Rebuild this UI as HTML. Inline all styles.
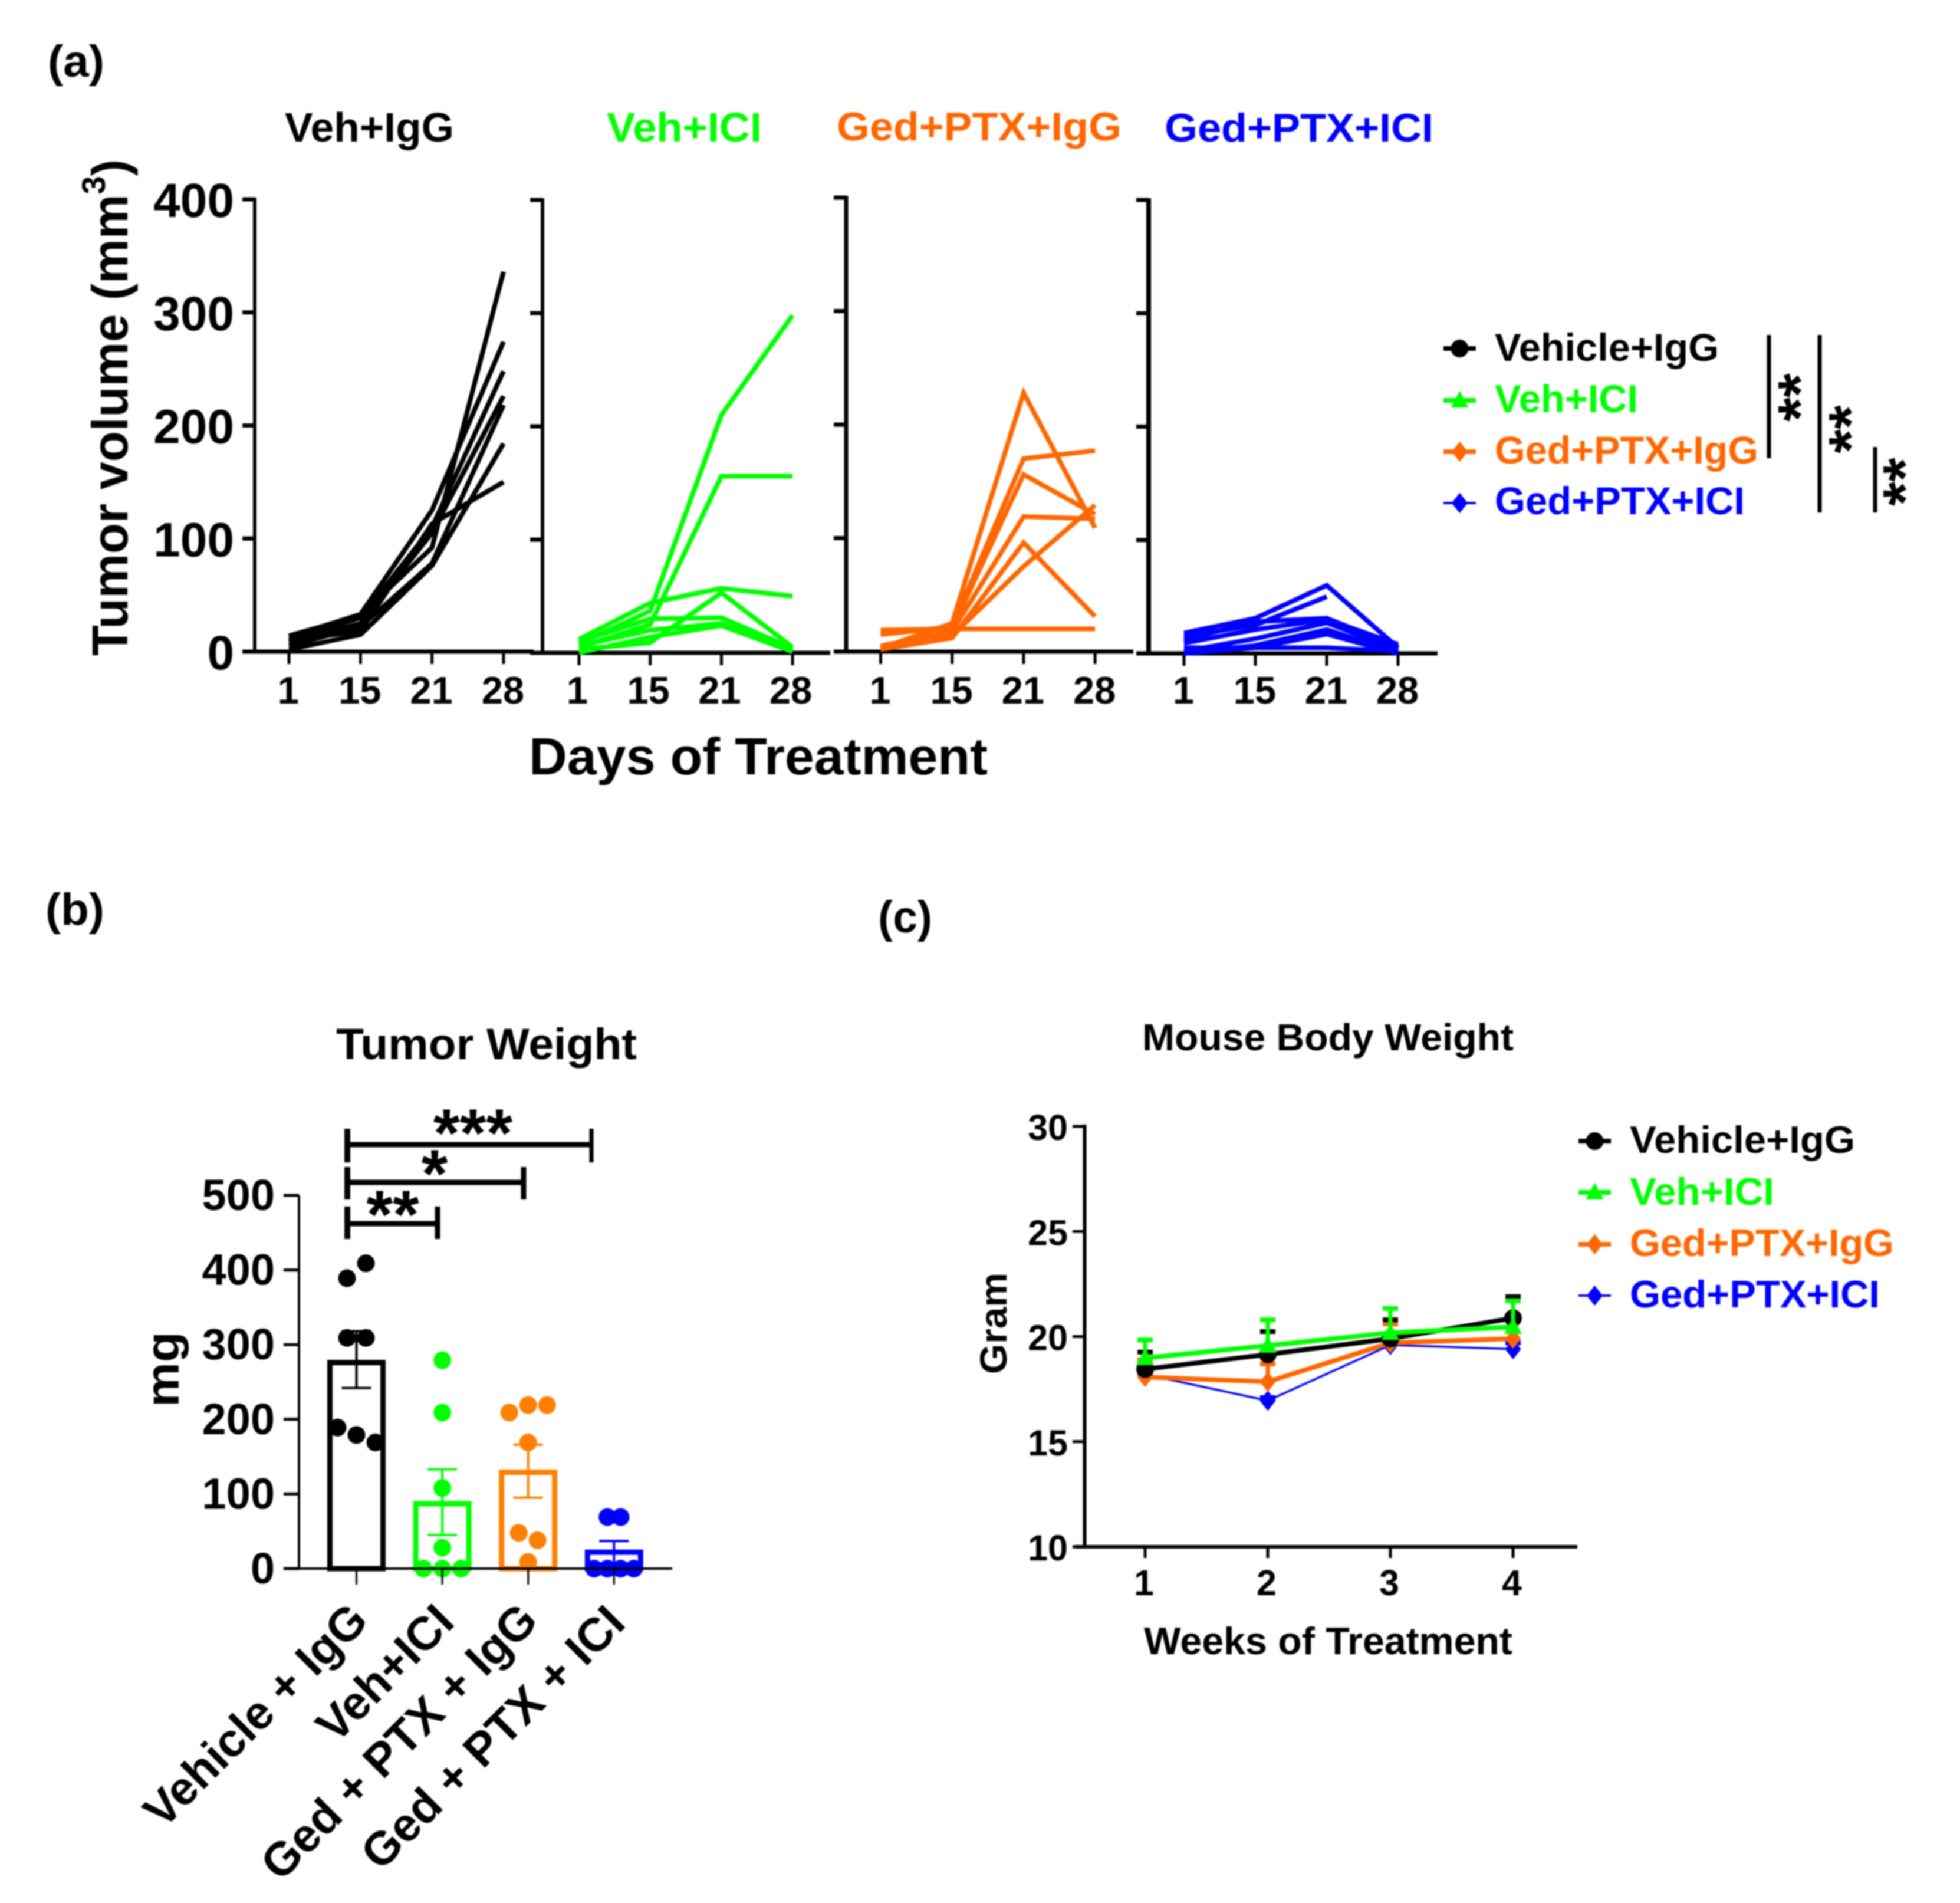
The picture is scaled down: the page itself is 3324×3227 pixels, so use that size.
<!DOCTYPE html>
<html lang="en">
<head>
<meta charset="utf-8">
<title>Tumor volume, tumor weight and body weight</title>
<style>
html,body{margin:0;padding:0;background:#fff;}
svg{display:block;filter:blur(1.2px);}
text{font-family:"Liberation Sans",Arial,sans-serif;font-weight:bold;}
</style>
</head>
<body>
<svg id="fig" xmlns="http://www.w3.org/2000/svg" width="3324" height="3227" viewBox="0 0 3324 3227">
<rect x="0" y="0" width="3324" height="3227" fill="#fff"/>

<text x="81" y="130" font-size="76" textLength="96" lengthAdjust="spacingAndGlyphs">(a)</text>
<text x="483" y="240" font-size="70" textLength="287" lengthAdjust="spacingAndGlyphs" fill="#000">Veh+IgG</text>
<text x="1029" y="240" font-size="70" textLength="263" lengthAdjust="spacingAndGlyphs" fill="#00ff00">Veh+ICI</text>
<text x="1419" y="238" font-size="68" textLength="483" lengthAdjust="spacingAndGlyphs" fill="#ff6600">Ged+PTX+IgG</text>
<text x="1975" y="240" font-size="68" textLength="456" lengthAdjust="spacingAndGlyphs" fill="#0000ff">Ged+PTX+ICI</text>
<text transform="translate(216,1112) rotate(-90)" font-size="85">Tumor volume (mm<tspan font-size="56" dy="-38">3</tspan><tspan dy="38">)</tspan></text>
<text x="897" y="1313" font-size="88" textLength="778" lengthAdjust="spacingAndGlyphs">Days of Treatment</text>

<text x="2535" y="612" font-size="66" textLength="380" lengthAdjust="spacingAndGlyphs" fill="#000">Vehicle+IgG</text>
<text x="2535" y="699" font-size="66" textLength="243" lengthAdjust="spacingAndGlyphs" fill="#00ff00">Veh+ICI</text>
<text x="2535" y="786" font-size="66" textLength="447" lengthAdjust="spacingAndGlyphs" fill="#ff6600">Ged+PTX+IgG</text>
<text x="2535" y="872" font-size="66" textLength="424" lengthAdjust="spacingAndGlyphs" fill="#0000ff">Ged+PTX+ICI</text>

<line x1="3000" y1="568" x2="3000" y2="777" stroke="#000" stroke-width="7"/>
<line x1="3086" y1="568" x2="3086" y2="869" stroke="#000" stroke-width="7"/>
<line x1="3180" y1="758" x2="3180" y2="869" stroke="#000" stroke-width="7"/>
<text transform="translate(3088,674) rotate(-90)" text-anchor="middle" font-size="105">**</text>
<text transform="translate(3174,728) rotate(-90)" text-anchor="middle" font-size="105">**</text>
<text transform="translate(3266,817) rotate(-90)" text-anchor="middle" font-size="105">**</text>

<text x="77" y="1568" font-size="76" textLength="100" lengthAdjust="spacingAndGlyphs">(b)</text>
<text x="570" y="1796" font-size="74" textLength="510" lengthAdjust="spacingAndGlyphs">Tumor Weight</text>
<text transform="translate(303,2386) rotate(-90)" font-size="80" textLength="128" lengthAdjust="spacingAndGlyphs">mg</text>

<line x1="589" y1="1941" x2="1003" y2="1941" stroke="#000" stroke-width="9"/>
<line x1="589" y1="1914" x2="589" y2="1971" stroke="#000" stroke-width="10"/>
<line x1="1003" y1="1914" x2="1003" y2="1971" stroke="#000" stroke-width="7"/>
<line x1="589" y1="2005" x2="888" y2="2005" stroke="#000" stroke-width="9"/>
<line x1="589" y1="1979" x2="589" y2="2034" stroke="#000" stroke-width="10"/>
<line x1="888" y1="1979" x2="888" y2="2034" stroke="#000" stroke-width="9"/>
<line x1="589" y1="2075" x2="742" y2="2075" stroke="#000" stroke-width="9"/>
<line x1="589" y1="2046" x2="589" y2="2101" stroke="#000" stroke-width="10"/>
<line x1="742" y1="2046" x2="742" y2="2101" stroke="#000" stroke-width="9"/>
<text x="802" y="1961" text-anchor="middle" font-size="115">***</text>
<text x="737" y="2030" text-anchor="middle" font-size="115">*</text>
<text x="666" y="2099" text-anchor="middle" font-size="115">**</text>

<text transform="translate(628,2752) rotate(-45)" text-anchor="end" font-size="79.5">Vehicle + IgG</text>
<text transform="translate(774,2754) rotate(-45)" text-anchor="end" font-size="79.5">Veh+ICI</text>
<text transform="translate(916,2752) rotate(-45)" text-anchor="end" font-size="79.5">Ged + PTX + IgG</text>
<text transform="translate(1064,2756) rotate(-45)" text-anchor="end" font-size="79.5">Ged + PTX + ICI</text>

<text x="1489" y="1581" font-size="76" textLength="92" lengthAdjust="spacingAndGlyphs">(c)</text>
<text x="1937" y="1781" font-size="64" textLength="630" lengthAdjust="spacingAndGlyphs">Mouse Body Weight</text>
<text transform="translate(1707,2330) rotate(-90)" font-size="64" textLength="172" lengthAdjust="spacingAndGlyphs">Gram</text>
<text x="1940" y="2805" font-size="65" textLength="625" lengthAdjust="spacingAndGlyphs">Weeks of Treatment</text>
<text x="2764" y="1955" font-size="65" textLength="382" lengthAdjust="spacingAndGlyphs" fill="#000">Vehicle+IgG</text>
<text x="2764" y="2043" font-size="65" textLength="245" lengthAdjust="spacingAndGlyphs" fill="#00ff00">Veh+ICI</text>
<text x="2764" y="2130" font-size="65" textLength="448" lengthAdjust="spacingAndGlyphs" fill="#ff6600">Ged+PTX+IgG</text>
<text x="2764" y="2217" font-size="65" textLength="424" lengthAdjust="spacingAndGlyphs" fill="#0000ff">Ged+PTX+ICI</text>
</svg>

<script>
// ---- Panel (a) data ----
const dayLabels = ['1', '15', '21', '28'];
const volumeTicks = [0, 100, 200, 300, 400];
const vehIggCurves = [
  [13, 33, 125, 274],
  [10, 30, 110, 248],
  [14, 32, 92, 336],
  [8, 25, 105, 226],
  [5, 22, 78, 218],
  [2, 15, 76, 184],
  [10, 18, 113, 150]
];
const vehIciCurves = [
  [8, 37, 210, 298],
  [5, 25, 156, 156],
  [12, 44, 57, 50],
  [3, 9, 53, 5],
  [10, 30, 31, 4],
  [0, 14, 24, 1],
  [6, 20, 26, 2]
];
const gedIggCurves = [
  [3, 25, 228, 109],
  [15, 22, 170, 177],
  [17, 20, 156, 121],
  [5, 18, 119, 117],
  [2, 12, 96, 31],
  [4, 14, 75, 129],
  [19, 20, 20, 20]
];
const gedIciCurves = [
  [18, 31, 60, 5],
  [15, 25, 50, null],
  [9, 21, 30, 8],
  [2, 13, 27, 3],
  [0, 7, 21, 1],
  [0, 5, 17, 0],
  [5, 5, 5, 2],
  [12, 28, 31, 6]
];

// ---- Panel (b) data ----
const weightTicks = [0, 100, 200, 300, 400, 500];
const barMeans = [276, 87, 129, 22];
const barErrLow = [242, 45, 95, 7];
const barErrHigh = [318, 133, 166, 37];
const dotsVehIgg = [409, 389, 309, 309, 189, 179, 169];
const dotsVehIci = [279, 209, 108, 28, 0, 0, 0];
const dotsGedIgg = [209, 219, 219, 169, 48, 38, 9];
const dotsGedIci = [69, 69, 0, 0, 0, 0];
const swarmSlotsVehIgg = [1, -1, -1, 1, -2, 0, 2];
const swarmSlotsVehIci = [0, 0, 0, 0, -2, 0, 2];
const swarmSlotsGedIgg = [-2, 0, 2, 0, -1, 1, 0];
const swarmSlotsGedIci = [-0.7, 0.7, -2.1, -0.7, 0.7, 2.1];

// ---- Panel (c) data ----
const weekLabels = ['1', '2', '3', '4'];
const gramTicks = [10, 15, 20, 25, 30];
const bodyVehIgg = [18.45, 19.15, 19.9, 20.88];
const bodyVehIci = [18.98, 19.57, 20.18, 20.46];
const bodyGedIgg = [18.08, 17.85, 19.7, 19.9];
const bodyGedIci = [18.2, 16.95, 19.6, 19.4];
const bodyTopVehIgg = [19.26, 20.24, 20.8, 21.9];
const bodyTopVehIci = [19.84, 20.8, 21.34, 21.7];
const bodyTopGedIgg = [18.9, 18.7, 20.6, 21.0];
const bodyTopGedIci = [18.4, 17.1, 19.75, 19.7];

const NS = 'http://www.w3.org/2000/svg';
const fig = document.getElementById('fig');

function make(tag, attrs) {
  const el = document.createElementNS(NS, tag);
  for (const k in attrs) el.setAttribute(k, attrs[k]);
  fig.appendChild(el);
  return el;
}
function drawLine(x1, y1, x2, y2, color, width, name) {
  const el = make('line', {x1: x1, y1: y1, x2: x2, y2: y2, stroke: color, 'stroke-width': width});
  
  
  return el;
}
function drawText(x, y, str, size, anchor, name) {
  const el = make('text', {x: x, y: y, 'font-size': size, 'text-anchor': anchor});
  el.textContent = str;
  
  
  return el;
}
function drawMarker(kind, x, y, s, color, name) {
  let el;
  if (kind === 'circle') {
    el = make('circle', {cx: x, cy: y, r: s, fill: color});
  } else if (kind === 'triangle') {
    el = make('polygon', {points: [x, y - s * 1.1, x + s, y + s * 0.8, x - s, y + s * 0.8].join(' '), fill: color});
  } else {
    el = make('polygon', {points: [x, y - s * 1.15, x + s * 0.9, y, x, y + s * 1.15, x - s * 0.9, y].join(' '), fill: color});
  }
  
  
  return el;
}

// ---- Panel (a) ----
function drawSmallMultiple(p, curves) {
  const y = v => p.y0 - (v / 400) * (p.y0 - p.yTop);
  const x = i => p.x0 + i * p.step;
  drawLine(p.axisX, p.yTop - 3, p.axisX, p.y0 + 3, '#000', p.axisW, p.key + '-y-axis');
  drawLine(p.xStart, p.y0, p.xEnd, p.y0, '#000', 7, p.key + '-x-axis');
  volumeTicks.forEach(v => {
    drawLine(p.axisX - 21, y(v), p.axisX, y(v), '#000', 7, p.key + '-y-tick-' + v);
    if (p.labels) drawText(397, y(v) + 30, String(v), 82, 'end', 'y-tick-label-' + v);
  });
  dayLabels.forEach((d, i) => {
    drawLine(x(i), p.y0, x(i), p.y0 + 21, '#000', 5, p.key + '-x-tick-' + d);
    drawText(x(i) + p.labelShift, 1193, d, 65, 'middle', p.key + '-x-tick-label-' + d);
  });
  curves.forEach((c, n) => {
    const pts = [];
    c.forEach((v, i) => { if (v !== null) pts.push(x(i) + ',' + y(v)); });
    const el = make('polyline', {points: pts.join(' '), fill: 'none', stroke: p.color, 'stroke-width': 8, 'stroke-linejoin': 'miter'});
    
    
  });
}
drawSmallMultiple({key: 'veh-igg', axisX: 432, axisW: 6, yTop: 338, y0: 1105, xStart: 411, xEnd: 905, x0: 490, step: 121.3, color: '#000', labels: true, labelShift: -1}, vehIggCurves);
drawSmallMultiple({key: 'veh-ici', axisX: 920, axisW: 6, yTop: 339, y0: 1107, xStart: 904, xEnd: 1408, x0: 982, step: 120.7, color: '#00ff00', labels: false, labelShift: -3}, vehIciCurves);
drawSmallMultiple({key: 'ged-igg', axisX: 1435, axisW: 7, yTop: 335, y0: 1105, xStart: 1416, xEnd: 1922, x0: 1493.5, step: 121.2, color: '#ff6600', labels: false, labelShift: -1}, gedIggCurves);
drawSmallMultiple({key: 'ged-ici', axisX: 1948, axisW: 8, yTop: 339, y0: 1108, xStart: 1932, xEnd: 2438, x0: 2008, step: 121, color: '#0000ff', labels: false, labelShift: -1}, gedIciCurves);

// ---- Legends ----
const legendKinds = ['circle', 'triangle', 'diamond', 'diamond'];
const legendColors = ['#000', '#00ff00', '#ff6600', '#0000ff'];
const legendKeys = ['vehicle-igg', 'veh-ici', 'ged-ptx-igg', 'ged-ptx-ici'];
function drawLegend(prefix, x1, x2, ys) {
  ys.forEach((ly, i) => {
    drawLine(x1, ly, x2, ly, legendColors[i], i === 3 ? 4 : 8, prefix + '-line-' + legendKeys[i]);
    drawMarker(legendKinds[i], (x1 + x2) / 2, ly, 15, legendColors[i], prefix + '-marker-' + legendKeys[i]);
  });
}
drawLegend('legend-a', 2448, 2503, [591, 679, 766, 853]);
drawLegend('legend-c', 2677, 2732, [1935, 2022, 2110, 2197]);

// ---- Panel (b) ----
const bY = v => 2660 - v * 1.266;
const bX = i => 604.5 + i * 145.6;
const barColors = ['#000', '#00ff00', '#ff7f00', '#0000ff'];
const barKeys = ['vehicle-igg', 'veh-ici', 'ged-ptx-igg', 'ged-ptx-ici'];
const allDots = [dotsVehIgg, dotsVehIci, dotsGedIgg, dotsGedIci];
const allSlots = [swarmSlotsVehIgg, swarmSlotsVehIci, swarmSlotsGedIgg, swarmSlotsGedIci];
drawLine(507, bY(500), 507, 2660, '#000', 4, 'weight-y-axis');
weightTicks.forEach(v => {
  drawLine(481, bY(v), 507, bY(v), '#000', 5, 'weight-y-tick-' + v);
  drawText(466, bY(v) + 25, String(v), 74, 'end', 'weight-y-tick-label-' + v);
});
barMeans.forEach((m, i) => {
  const bar = make('rect', {x: bX(i) - 45, y: bY(m), width: 90, height: 2660 - bY(m), fill: 'none', stroke: barColors[i], 'stroke-width': 9});
  
  
  drawLine(bX(i), bY(barErrLow[i]), bX(i), bY(barErrHigh[i]), barColors[i], 4, 'error-stem-' + barKeys[i]);
  drawLine(bX(i) - 25, bY(barErrLow[i]), bX(i) + 25, bY(barErrLow[i]), barColors[i], 4, 'error-cap-low-' + barKeys[i]);
  drawLine(bX(i) - 25, bY(barErrHigh[i]), bX(i) + 25, bY(barErrHigh[i]), barColors[i], 4, 'error-cap-high-' + barKeys[i]);
  allDots[i].forEach((v, n) => {
    drawMarker('circle', bX(i) + allSlots[i][n] * 16, bY(v), 15, barColors[i], 'dot-' + barKeys[i] + '-' + (n + 1));
  });
});
drawLine(481, 2660, 1140, 2660, '#000', 4, 'weight-x-axis');
barMeans.forEach((m, i) => {
  drawLine(bX(i), 2660, bX(i), 2687, '#000', 3, 'weight-x-tick-' + barKeys[i]);
});

// ---- Panel (c) ----
const cY = v => 2623 - (v - 10) * 35.65;
const cX = i => 1942 + i * 208;
drawLine(1839.5, cY(30) - 3, 1839.5, 2626, '#000', 6, 'gram-y-axis');
drawLine(1823, 2623, 2675, 2623, '#000', 6, 'weeks-x-axis');
gramTicks.forEach(v => {
  drawLine(1819, cY(v), 1839, cY(v), '#000', 5, 'gram-y-tick-' + v);
  drawText(1811, cY(v) + 23, String(v), 61, 'end', 'gram-y-tick-label-' + v);
});
weekLabels.forEach((w, i) => {
  drawLine(cX(i), 2623, cX(i), 2642, '#000', 5, 'weeks-x-tick-' + w);
  drawText(cX(i) - 2, 2705, w, 61, 'middle', 'weeks-x-tick-label-' + w);
});
const bodySeries = [bodyGedIci, bodyGedIgg, bodyVehIgg, bodyVehIci];
const bodyTops = [bodyTopGedIci, bodyTopGedIgg, bodyTopVehIgg, bodyTopVehIci];
const bodyColors = ['#0000ff', '#ff6600', '#000', '#00ff00'];
const bodyKinds = ['diamond', 'diamond', 'circle', 'triangle'];
const bodyKeys = ['ged-ptx-ici', 'ged-ptx-igg', 'vehicle-igg', 'veh-ici'];
bodySeries.forEach((s, n) => {
  s.forEach((v, i) => {
    drawLine(cX(i), cY(v), cX(i), cY(bodyTops[n][i]), bodyColors[n], n === 0 ? 3 : 7, 'body-error-stem-' + bodyKeys[n] + '-' + weekLabels[i]);
    drawLine(cX(i) - 13, cY(bodyTops[n][i]), cX(i) + 13, cY(bodyTops[n][i]), bodyColors[n], 8, 'body-error-cap-' + bodyKeys[n] + '-' + weekLabels[i]);
    drawMarker(bodyKinds[n], cX(i), cY(v), 15, bodyColors[n], 'body-point-' + bodyKeys[n] + '-' + weekLabels[i]);
  });
  const line = make('polyline', {points: s.map((v, i) => cX(i) + ',' + cY(v)).join(' '), fill: 'none', stroke: bodyColors[n], 'stroke-width': n === 0 ? 3.5 : 8});
  
  
});
</script>
</body>
</html>
